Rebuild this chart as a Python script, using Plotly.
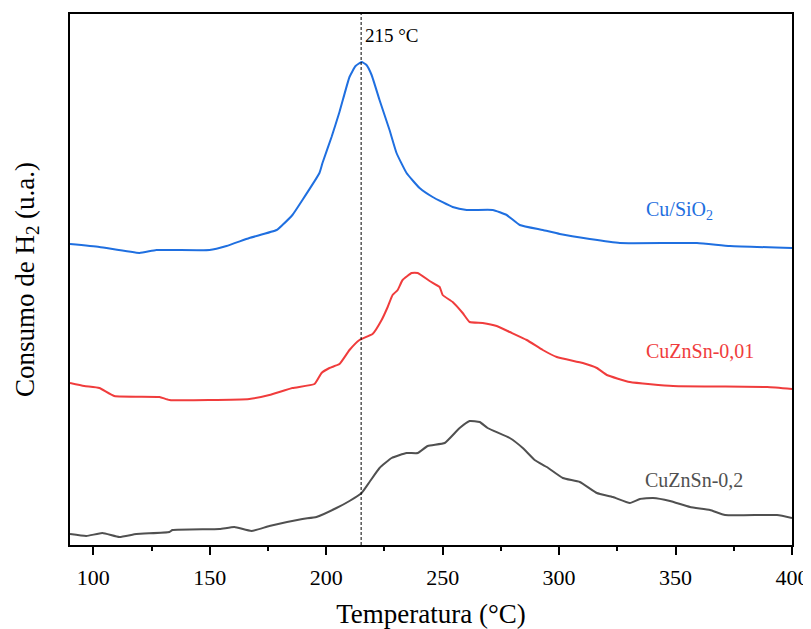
import plotly.graph_objects as go

# Cu/SiO2
t_cu = [90, 102.6, 119.8, 127.1, 149.9, 157.2, 167.0, 178.7, 181.2, 185.5, 189.8, 197.1, 198.4,
        202.3, 205.7, 210.0, 212.6, 215.2, 217.3, 219.5, 222.9, 227.2, 230.2, 234.5, 240.1, 245.7,
        254.3, 260.3, 271.5, 277.5, 283.1, 293.0, 300.3, 313.2, 326.1, 359.2, 373.4, 400]
s_cu = [301, 298, 292, 295, 295, 299, 307, 315, 320, 330, 345, 372, 382,
        408, 433, 468, 479, 483, 480, 470, 445, 415, 392, 372, 357, 348,
        338, 335, 335, 330, 320, 315, 311, 306, 302, 302, 299, 297]

# CuZnSn-0,01
t_001 = [90, 96.1, 102.6, 109.0, 128.4, 132.7, 167.0, 175.6, 185.5, 195.0, 198.0, 201.4, 205.7,
         210.0, 214.3, 219.9, 223.8, 226.4, 228.5, 230.7, 232.8, 236.7, 239.3, 244.4, 248.7, 250.0,
         254.3, 258.6, 261.6, 267.2, 273.2, 278.8, 286.1, 293.0, 299.0, 310.2, 316.2, 320.5, 330.4,
         348.9, 389.3, 400]
s_001 = [162, 159, 157, 149, 148, 145, 146, 150, 157, 161, 172, 177, 181,
         195, 205, 211, 225, 238, 250, 255, 265, 272, 272, 264, 258, 250,
         243, 232, 223, 222, 219, 213, 205, 195, 188, 182, 177, 170, 163,
         159, 158, 156]

# CuZnSn-0,2
t_02 = [90, 97.0, 103.9, 111.2, 118.5, 132.7, 134.0, 154.2, 160.6, 167.9, 175.6, 189.8, 195.8,
        204.4, 210.0, 215.2, 218.6, 222.9, 228.1, 234.5, 239.3, 243.6, 250.9, 257.3, 261.6, 265.9,
        269.3, 278.8, 284.4, 289.5, 294.7, 301.6, 308.9, 316.2, 323.1, 330.4, 334.7, 340.3, 347.6,
        356.2, 364.8, 371.3, 393.6, 400]
s_02 = [11, 9, 12, 8, 11, 13, 15, 16, 18, 14, 19, 26, 28,
        37, 44, 52, 63, 77, 87, 92, 92, 99, 102, 117, 124, 123,
        117, 107, 97, 85, 78, 67, 63, 52, 48, 42, 46, 47, 44,
        38, 35, 30, 30, 27]

x_ticks = [100, 150, 200, 250, 300, 350, 400]
x_minor = [125, 175, 225, 275, 325, 375]
peak_T = 215

BLUE = "#1f6fe0"
RED = "#f03c3c"
GRAY = "#505050"
FONT = "Liberation Serif, Times New Roman, serif"

fig = go.Figure()
for t, s, c in [(t_cu, s_cu, BLUE), (t_001, s_001, RED), (t_02, s_02, GRAY)]:
    fig.add_trace(go.Scatter(x=t, y=s, mode="lines",
                             line=dict(color=c, width=2, shape="spline", smoothing=0.4),
                             showlegend=False, hoverinfo="skip"))

fig.add_shape(type="line", x0=peak_T, x1=peak_T, y0=0, y1=1, yref="paper", xref="x",
              line=dict(color="black", width=1, dash="3px,2px"))

fig.add_annotation(x=peak_T, y=510, text="215 °C", showarrow=False, xanchor="left",
                   xshift=2, font=dict(family=FONT, size=19, color="black"))
fig.add_annotation(x=351.9, y=335, text="Cu/SiO<sub>2</sub>", showarrow=False,
                   font=dict(family=FONT, size=20, color=BLUE))
fig.add_annotation(x=360.5, y=194, text="CuZnSn-0,01", showarrow=False,
                   font=dict(family=FONT, size=20, color=RED))
fig.add_annotation(x=357.9, y=65, text="CuZnSn-0,2", showarrow=False,
                   font=dict(family=FONT, size=20, color=GRAY))

fig.update_layout(
    width=803, height=621,
    margin=dict(l=62, r=19, t=6, b=84, autoexpand=False),
    paper_bgcolor="white", plot_bgcolor="white",
    font=dict(family=FONT, color="black"),
)
fig.update_xaxes(range=[90, 400], tickvals=x_ticks, ticks="outside", ticklen=8, tickwidth=1.8,
                 tickcolor="black", showline=True, linecolor="black", linewidth=1.8, mirror=True,
                 showgrid=False, zeroline=False, tickfont=dict(family=FONT, size=22),
                 ticklabelstandoff=4, automargin=False,
                 minor=dict(tickvals=x_minor, ticks="outside", ticklen=4,
                            tickwidth=1.8, tickcolor="black", showgrid=False),
                 title=dict(text="Temperatura (°C)", font=dict(family=FONT, size=27), standoff=18))
fig.update_yaxes(range=[0, 531], showticklabels=False, ticks="", showline=True,
                 linecolor="black", linewidth=1.8, mirror=True, showgrid=False, zeroline=False,
                 automargin=False,
                 title=dict(text="Consumo de H<sub>2</sub> (u.a.)", font=dict(family=FONT, size=27),
                            standoff=26))

fig.write_html("out.html")
